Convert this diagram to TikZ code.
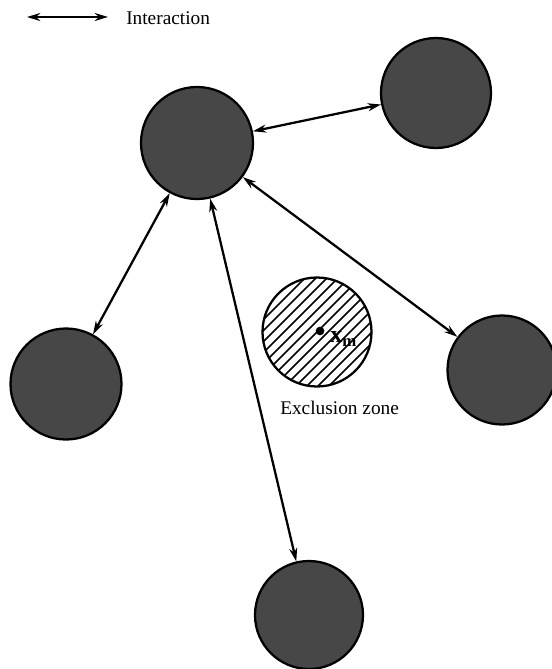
\documentclass[tikz,border=0pt]{standalone}
\usepackage{fontspec}
\setmainfont{Liberation Serif}
\usetikzlibrary{arrows.meta}
\begin{document}
\begin{tikzpicture}[x=0.75pt,y=-0.75pt,
  particle/.style={circle, draw=black, line width=1.7pt, fill=black!72, minimum size=#1*1.5pt, inner sep=0pt},
  interaction/.style={{Stealth[length=10pt,width=6pt]}-{Stealth[length=10pt,width=6pt]}, line width=1.7pt},
  zone/.style={circle, draw=black, line width=1.7pt, minimum size=#1*1.5pt, inner sep=0pt,
    path picture={\foreach \c in {-154,-143,...,154}
      \draw[line width=1.1pt, shift={(path picture bounding box.center)}] (\c-90,90) -- ++(180,-180);}},
  lbl/.style={font=\fontsize{14.5}{17}\selectfont}
]
\useasboundingbox (0,0) rectangle (552,669);

% legend
\coordinate (l1) at (27,17);
\coordinate (l2) at (108,17);
\draw[interaction] (l1) -- (l2);
\node[lbl, anchor=base west, inner sep=0pt] (legtext) at (126,24) {Interaction};

% particles
\node[particle=56] (main) at (197,143) {};
\node[particle=55] (tr) at (436,93) {};
\node[particle=55.5] (left) at (66,384) {};
\node[particle=54.5] (right) at (502,370) {};
\node[particle=54] (bottom) at (309,615) {};

% exclusion zone
\node[zone=54.5] (ex) at (317,332) {};
\node[circle, fill=black, inner sep=0pt, minimum size=6.5pt] (xm) at (320,331) {};
\node[anchor=west, inner sep=0pt, font=\fontsize{18}{20}\selectfont] (xmlabel) at (330,339) {\textbf{x}\textsubscript{\textbf{m}}};
\node[lbl, anchor=base west, inner sep=0pt] (extext) at (280,414) {Exclusion zone};

% interactions
\draw[interaction] (main) -- (tr);
\draw[interaction] (main) -- (left);
\draw[interaction] (main) -- (right);
\draw[interaction] (main) -- (bottom);
\end{tikzpicture}
\end{document}
